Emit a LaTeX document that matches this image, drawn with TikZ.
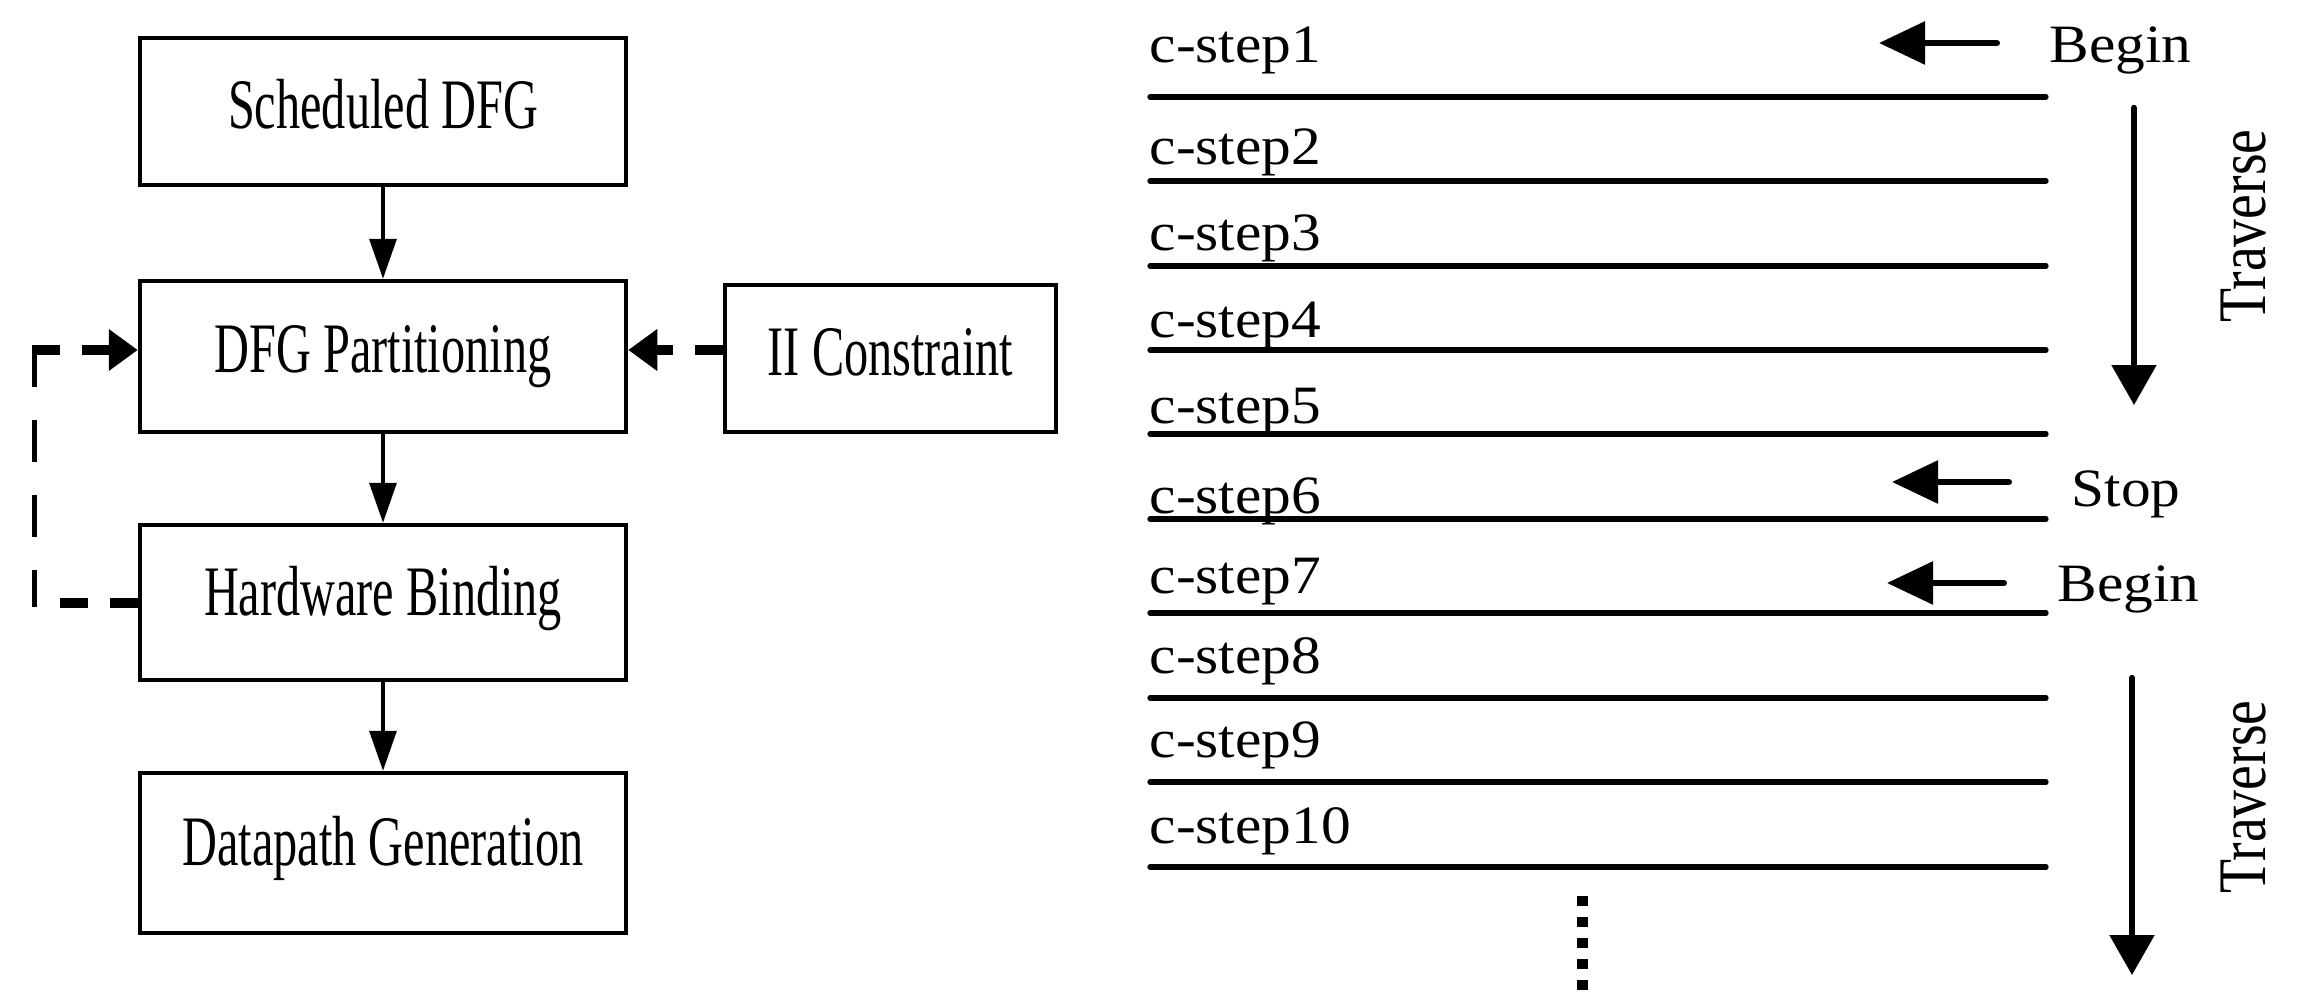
\documentclass[tikz,border=0pt]{standalone}
\usepackage{fontspec}
\setmainfont{Liberation Serif}
\newfontfamily\boxfont[FakeStretch=0.68]{Liberation Serif}
\newfontfamily\stepfont[FakeStretch=1.1]{Liberation Serif}
\newfontfamily\travfont[FakeStretch=0.82]{Liberation Serif}
\usetikzlibrary{arrows.meta}
\begin{document}
\begin{tikzpicture}[x=0.3pt,y=-0.3pt,
  box/.style={draw, line width=1.25pt, inner sep=0pt, minimum width=145.9pt,
    font=\boxfont\fontsize{21.3}{25}\selectfont, text depth=3pt},
  flow/.style={line width=1pt, -{Triangle[length=12pt,width=8.1pt]}},
  fbh/.style={line width=3pt, dash pattern=on 8.4pt off 6.6pt},
  fbv/.style={line width=1.5pt, dash pattern=on 12.6pt off 9.9pt},
  fbtip/.style={-{Triangle[length=8.7pt,width=12pt]}},
  steplabel/.style={anchor=base west, inner sep=0pt, font=\stepfont\fontsize{16.2}{19}\selectfont},
  sidelabel/.style={anchor=base west, inner sep=0pt, font=\stepfont\fontsize{16.2}{19}\selectfont},
  trav/.style={rotate=90, anchor=base, inner sep=0pt, font=\travfont\fontsize{20.4}{24}\selectfont},
  stepline/.style={line width=1.6pt, line cap=round},
  ptr/.style={line width=1.8pt, line cap=round, -{Triangle[length=13.8pt,width=12.6pt]}},
  travarrow/.style={line width=1.6pt, line cap=round, -{Triangle[length=12pt,width=13.2pt]}},
  dots/.style={line width=3.3pt, dash pattern=on 3pt off 3.3pt}
]
\useasboundingbox (0,0) rectangle (2301,992);

% left flow
\node[box, minimum height=44.2pt, text height=13.5pt] (sdfg) at (383,111.5) {Scheduled DFG};
\node[box, minimum height=45.4pt, text height=12.9pt] (dfgp) at (383,356.5) {DFG Partitioning};
\node[box, minimum width=99.4pt, minimum height=44.2pt, text height=13.5pt] (ii) at (890.5,358.5) {II Constraint};
\node[box, minimum height=46.6pt, text height=10.5pt] (hb) at (383,602.5) {Hardware Binding};
\node[box, minimum height=48.1pt, text height=10.2pt] (dg) at (383,853) {Datapath Generation};

\draw[flow] (sdfg.south) -- (dfgp.north);
\draw[flow] (dfgp.south) -- (hb.north);
\draw[flow] (hb.south) -- (dg.north);

\coordinate (yII) at (0,350);
\draw[fbh, fbtip] (ii.west |- yII) -- (dfgp.east |- yII);

\coordinate (fbB) at (40,602.5);
\coordinate (fbVT) at (34,345);
\coordinate (fbVB) at (34,607);
\coordinate (fbTL) at (31.5,350);
\draw[fbh] (hb.west) -- (fbB);
\draw[fbv] (fbVT) -- (fbVB);
\draw[fbh, fbtip] (fbTL) -- (dfgp.west |- yII);

% right c-steps
\node[steplabel] (s1) at (1149,63) {c-step1};
\node[steplabel] (s2) at (1149,165) {c-step2};
\node[steplabel] (s3) at (1149,250) {c-step3};
\node[steplabel] (s4) at (1149,338) {c-step4};
\node[steplabel] (s5) at (1149,423) {c-step5};
\node[steplabel] (s6) at (1149,513) {c-step6};
\node[steplabel] (s7) at (1149,593) {c-step7};
\node[steplabel] (s8) at (1149,673) {c-step8};
\node[steplabel] (s9) at (1149,757) {c-step9};
\node[steplabel] (s10) at (1149,843) {c-step10};

\foreach \yy in {97,181,266,350,434,519,613,698,782,867}
  \draw[stepline] (1150,\yy) -- (2046,\yy);

\node[sidelabel] (b1) at (2049,63) {Begin};
\node[sidelabel] (st) at (2071,506) {Stop};
\node[sidelabel] (b2) at (2057,601) {Begin};

\coordinate (p1t) at (1997,43);
\coordinate (p1h) at (1879,43);
\coordinate (p2t) at (2009,482);
\coordinate (p2h) at (1892,482);
\coordinate (p3t) at (2004,583);
\coordinate (p3h) at (1887,583);
\draw[ptr] (p1t) -- (p1h);
\draw[ptr] (p2t) -- (p2h);
\draw[ptr] (p3t) -- (p3h);

\coordinate (t1t) at (2134,107.5);
\coordinate (t1h) at (2134,405);
\coordinate (t2t) at (2132,677.5);
\coordinate (t2h) at (2132,975);
\draw[travarrow] (t1t) -- (t1h);
\draw[travarrow] (t2t) -- (t2h);

\node[trav] (tr1) at (2265,226) {Traverse};
\node[trav] (tr2) at (2265,797) {Traverse};

\coordinate (d1) at (1582,896);
\coordinate (d2) at (1582,992);
\draw[dots] (d1) -- (d2);
\end{tikzpicture}
\end{document}
